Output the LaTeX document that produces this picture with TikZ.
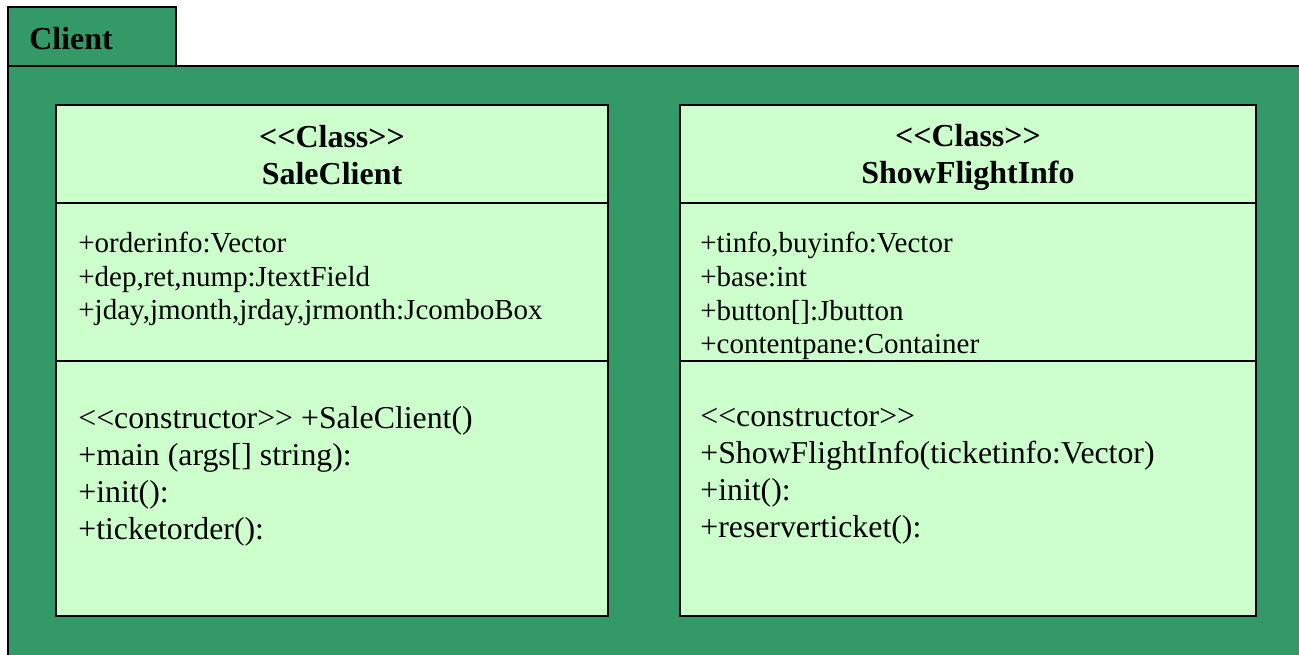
\documentclass[tikz,border=0pt]{standalone}
\usepackage{fontspec}
\setmainfont{Liberation Serif}
\usetikzlibrary{positioning}
\definecolor{pkggreen}{RGB}{51,153,102}
\definecolor{classfill}{RGB}{204,255,204}
% plain angle brackets, no guillemet ligature
\newcommand{\stereo}[1]{{<}{<}#1{>}{>}}

\begin{document}
\begin{tikzpicture}[
    x=0.02cm,y=-0.02cm,
    frame/.style={draw=black,line width=1.1pt},
    ttl/.style={font=\fontsize{18.2}{21}\selectfont\bfseries,align=center,inner sep=0pt},
    attr/.style={font=\fontsize{16.5}{19.3}\selectfont,align=left,anchor=west,inner sep=0pt},
    meth/.style={font=\fontsize{18.1}{21}\selectfont,align=left,anchor=west,inner sep=0pt}
  ]
    \useasboundingbox (0,0) rectangle (1299,654);
    \clip (0,0) rectangle (1299,654);
    % package frame and its tab
    \draw[frame,fill=pkggreen] (8,66) rectangle (1320,680);
    \draw[frame,fill=pkggreen] (8,7) rectangle (176,66);
    \node[ttl,anchor=west] (pkg) at (29,39) {Client};

    % SaleClient
    \draw[frame,fill=classfill] (56,105) rectangle (608,616);
    \draw[frame] (56,203) -- (608,203);
    \draw[frame] (56,361) -- (608,361);
    \node[ttl] (saleT) at (332,155.5) {\stereo{Class}\\SaleClient};
    \node[attr] (saleA) at (78,279) {+orderinfo:Vector\\+dep,ret,nump:JtextField\\+jday,jmonth,jrday,jrmonth:JcomboBox};
    \node[meth] (saleM) at (78,476) {\stereo{constructor} +SaleClient()\\+main (args[] string):\\+init():\\+ticketorder():};

    % ShowFlightInfo
    \draw[frame,fill=classfill] (680,105) rectangle (1256,616);
    \draw[frame] (680,203) -- (1256,203);
    \draw[frame] (680,361) -- (1256,361);
    \node[ttl] (showT) at (968,157.5) {\stereo{Class}\\ShowFlightInfo};
    \node[attr] (showA) at (700,296) {+tinfo,buyinfo:Vector\\+base:int\\+button[]:Jbutton\\+contentpane:Container};
    \node[meth] (showM) at (700,476) {\stereo{constructor}\\+ShowFlightInfo(ticketinfo:Vector)\\+init():\\+reserverticket():};
  \end{tikzpicture}
\end{document}
